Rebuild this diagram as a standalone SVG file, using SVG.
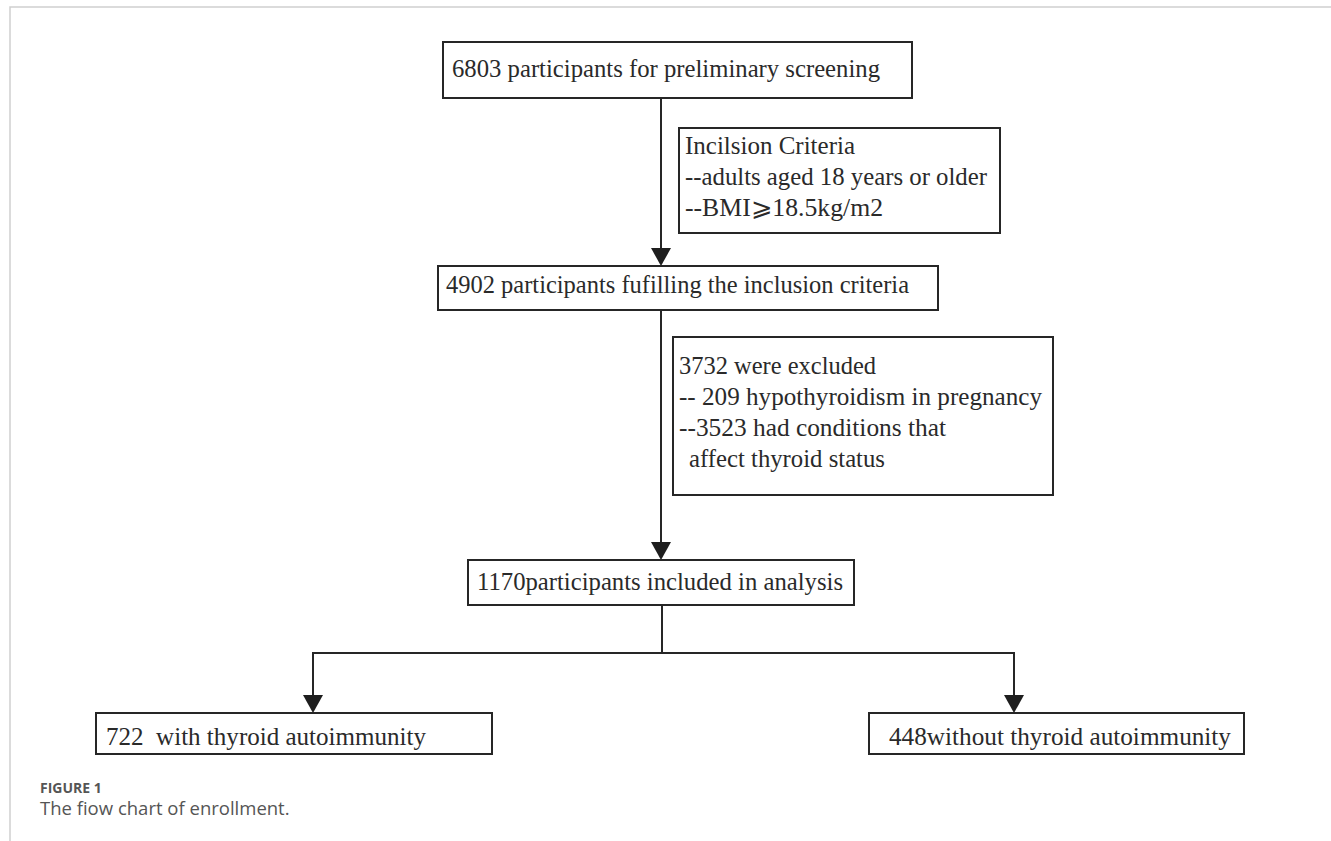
<svg xmlns="http://www.w3.org/2000/svg" width="1331" height="841" viewBox="0 0 1331 841">
<style>
.box{fill:#fff;stroke:#262626;stroke-width:2}
.t{font-family:"Liberation Serif","Times New Roman",serif;font-size:25px;fill:#2a2a2a;white-space:pre}
.ln{stroke:#262626;stroke-width:2;fill:none}
.cap{font-family:"Open Sans","Liberation Sans",sans-serif;fill:#555}
</style>
<defs>
<marker id="ah" markerWidth="18" markerHeight="20" refX="0" refY="10" orient="auto" markerUnits="userSpaceOnUse" viewBox="0 0 18 20">
<path d="M0,0 L18,10 L0,20 Z" fill="#1e1e1e"/>
</marker>
</defs>
<rect x="0" y="0" width="1331" height="841" fill="#fff"/>
<path d="M10,841 V7 H1331" fill="none" stroke="#cfcfcf" stroke-width="1.5"/>
<g id="connectors">
<line class="ln" x1="661" y1="98" x2="661" y2="248" marker-end="url(#ah)"/>
<line class="ln" x1="661" y1="310" x2="661" y2="542" marker-end="url(#ah)"/>
<polyline class="ln" points="662,605 662,653"/>
<polyline class="ln" points="313,653 1014,653"/>
<line class="ln" x1="313" y1="652" x2="313" y2="695" marker-end="url(#ah)"/>
<line class="ln" x1="1014" y1="652" x2="1014" y2="695" marker-end="url(#ah)"/>
</g>
<g id="n1">
<rect class="box" x="443" y="42" width="469" height="56"/>
<text class="t" x="452" y="77" textLength="428" lengthAdjust="spacingAndGlyphs">6803 participants for preliminary screening</text>
</g>
<g id="n_incl">
<rect class="box" x="679" y="128" width="321" height="105"/>
<text class="t" x="685" y="154" textLength="170" lengthAdjust="spacingAndGlyphs">Incilsion Criteria</text>
<text class="t" x="685" y="185" textLength="302" lengthAdjust="spacingAndGlyphs">--adults aged 18 years or older</text>
<text class="t" x="685" y="216" textLength="198" lengthAdjust="spacingAndGlyphs">--BMI⩾18.5kg/m2</text>
</g>
<g id="n2">
<rect class="box" x="438" y="266" width="500" height="44"/>
<text class="t" x="446" y="293" textLength="463" lengthAdjust="spacingAndGlyphs">4902 participants fufilling the inclusion criteria</text>
</g>
<g id="n_excl">
<rect class="box" x="673" y="337" width="380" height="158"/>
<text class="t" x="679" y="374" textLength="197" lengthAdjust="spacingAndGlyphs">3732 were excluded</text>
<text class="t" x="679" y="405" textLength="363" lengthAdjust="spacingAndGlyphs">-- 209 hypothyroidism in pregnancy</text>
<text class="t" x="679" y="436" textLength="267" lengthAdjust="spacingAndGlyphs">--3523 had conditions that</text>
<text class="t" x="689" y="467" textLength="196" lengthAdjust="spacingAndGlyphs">affect thyroid status</text>
</g>
<g id="n3">
<rect class="box" x="468" y="560" width="386" height="45"/>
<text class="t" x="477" y="590" textLength="366" lengthAdjust="spacingAndGlyphs">1170participants included in analysis</text>
</g>
<g id="n4">
<rect class="box" x="96" y="713" width="396" height="41"/>
<text class="t" x="106" y="745" textLength="320" lengthAdjust="spacingAndGlyphs" xml:space="preserve">722  with thyroid autoimmunity</text>
</g>
<g id="n5">
<rect class="box" x="869" y="713" width="375" height="41"/>
<text class="t" x="889" y="745" textLength="342" lengthAdjust="spacingAndGlyphs">448without thyroid autoimmunity</text>
</g>
<g id="caption">
<text class="cap" x="40" y="793" font-size="14" font-weight="bold">FIGURE 1</text>
<text class="cap" x="40" y="815" font-size="18.5">The fiow chart of enrollment.</text>
</g>
</svg>
